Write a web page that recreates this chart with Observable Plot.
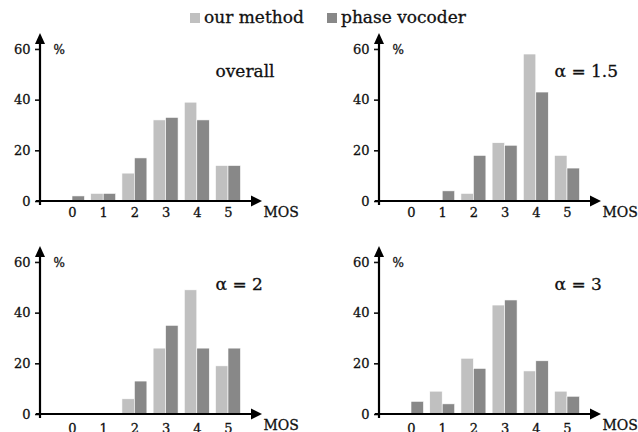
<!DOCTYPE html>
<html>
<head>
<meta charset="utf-8">
<script src="https://cdn.jsdelivr.net/npm/d3@7"></script>
<script src="https://cdn.jsdelivr.net/npm/@observablehq/plot@0.6"></script>
<style>
  html, body { margin: 0; padding: 0; background: #fff; }
  #root { position: relative; width: 638px; height: 432px; overflow: hidden; font-family: "DejaVu Serif", serif; }
  .panel { position: absolute; }
  .leg { position: absolute; top: 9px; font-size: 17px; line-height: 17px; color: #111; white-space: nowrap; -webkit-text-stroke: 0.3px #111; }
  .sw { display: inline-block; width: 10px; height: 10px; margin-right: 4px; vertical-align: baseline; }
  svg [aria-label="y-axis tick"] path { stroke-width: 1.6px; }
  svg text { stroke: #111; stroke-width: 0.3px; }
</style>
</head>
<body>
<div id="root"></div>
<script>
const mos = [0, 1, 2, 3, 4, 5];
const series = ["our method", "phase vocoder"];
const colors = ["#c0c0c0", "#888888"];
const yTicks = [0, 20, 40, 60];
const panelTitles = ["overall", "α = 1.5", "α = 2", "α = 3"];

const overallOur   = [0, 3, 11, 32, 39, 14];
const overallPhase = [2, 3, 17, 33, 32, 14];
const a15Our       = [0, 0, 3, 23, 58, 18];
const a15Phase     = [0, 4, 18, 22, 43, 13];
const a2Our        = [0, 0, 6, 26, 49, 19];
const a2Phase      = [0, 0, 13, 35, 26, 26];
const a3Our        = [0, 9, 22, 43, 17, 9];
const a3Phase      = [5, 4, 18, 45, 21, 7];

const root = document.getElementById("root");

// legend
const legLeft = [190, 327];
series.forEach((s, i) => {
  const d = document.createElement("div");
  d.className = "leg";
  d.style.left = legLeft[i] + "px";
  d.innerHTML = `<span class="sw" style="background:${colors[i]};-webkit-text-stroke:0"></span>${s}`;
  root.appendChild(d);
});

function panel(our, phase, title, left, top, tickPad) {
  const rows = [];
  mos.forEach((m, i) => {
    rows.push({mos: m, series: series[0], value: our[i], k: 0});
    rows.push({mos: m, series: series[1], value: phase[i], k: 1});
  });
  const bw = 0.4;
  const W = 300, H = 216, mL = 40, mR = 38, mT = 33, mB = 15;
  const plot = Plot.plot({
    width: W, height: H,
    marginLeft: mL, marginRight: mR, marginTop: mT, marginBottom: mB,
    style: {fontFamily: "DejaVu Serif", fontSize: "13px", background: "transparent", overflow: "visible", color: "#111"},
    x: {domain: [-1.026, 6.09], ticks: mos, tickSize: 0, tickPadding: tickPad, label: null, tickFormat: d => String(d)},
    y: {domain: [0, 66.3], ticks: yTicks, tickSize: 5, tickPadding: 5, label: null},
    color: {domain: series, range: colors},
    marks: [
      Plot.rect(rows.filter(d => d.value > 0), {
        x1: d => d.mos - bw + d.k * bw,
        x2: d => d.mos + d.k * bw,
        y1: 0, y2: "value",
        fill: "series", stroke: "#fff", strokeWidth: 0.6
      }),
      Plot.text([title], {text: d => d, frameAnchor: "top-left", lineAnchor: "middle", dx: 175, dy: 38, textAnchor: "start", fontSize: 17, fill: "#111"}),
      Plot.text(["%"], {text: d => d, frameAnchor: "top-left", lineAnchor: "middle", dx: 13, dy: 17, textAnchor: "start", fontSize: 12, fill: "#111"}),
      Plot.text(["MOS"], {text: d => d, frameAnchor: "bottom-right", lineAnchor: "middle", dx: 1, dy: 11, textAnchor: "start", fontSize: 14, fill: "#111"})
    ]
  });
  const sx = plot.scale("x"), sy = plot.scale("y");
  const x0 = sx.range[0], x1 = sx.range[1];
  const y0 = sy.apply(0), yT = sy.range[1];
  const svg = d3.select(plot);
  const g = svg.append("g").attr("fill", "#000").attr("stroke", "#000");
  g.append("path").attr("d", `M${x0},${y0 + 4}V${yT + 10}`).attr("stroke-width", 2.2).attr("fill", "none");
  g.append("path").attr("d", `M${x0 - 4},${y0}H${x1 - 10}`).attr("stroke-width", 2.2).attr("fill", "none");
  g.append("path").attr("d", `M${x0 - 5},${yT + 11}L${x0},${yT}L${x0 + 5},${yT + 11}Z`).attr("stroke", "none");
  g.append("path").attr("d", `M${x1 - 11},${y0 - 5.5}L${x1},${y0}L${x1 - 11},${y0 + 5.5}Z`).attr("stroke", "none");
  plot.classList.add("panel");
  plot.style.left = left + "px";
  plot.style.top = top + "px";
  plot.style.position = "absolute";
  root.appendChild(plot);
}

panel(overallOur, overallPhase, panelTitles[0], 0, 0, 6);
panel(a15Our, a15Phase, panelTitles[1], 339, 0, 6);
panel(a2Our, a2Phase, panelTitles[2], 0, 213, 9);
panel(a3Our, a3Phase, panelTitles[3], 339, 213, 9);
</script>
</body>
</html>
